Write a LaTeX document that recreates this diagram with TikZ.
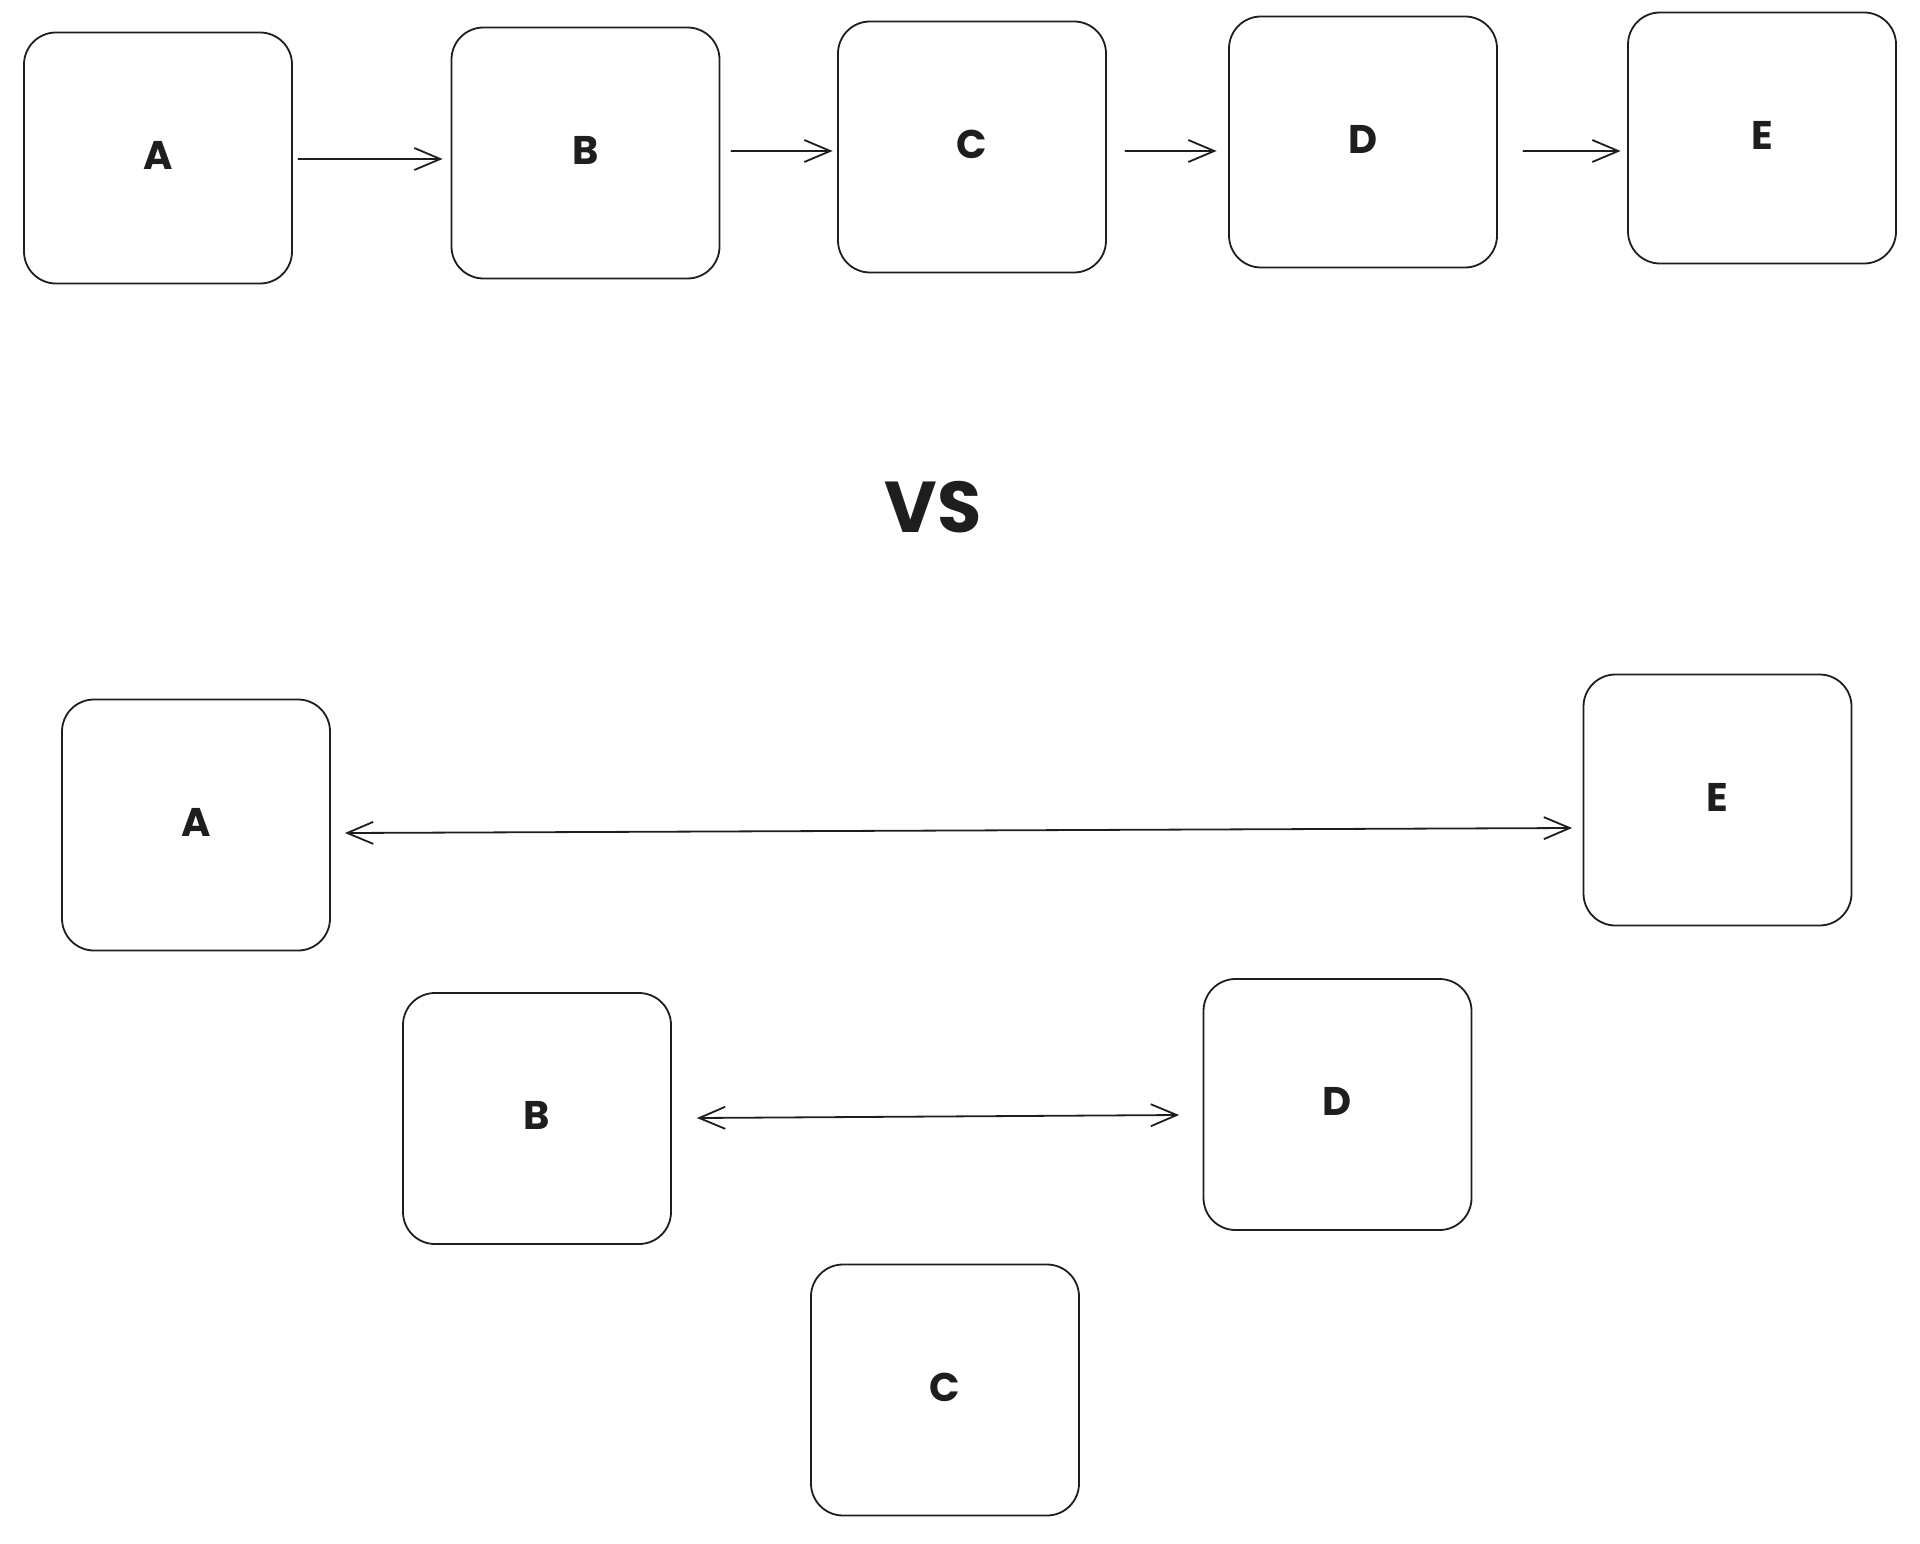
\documentclass[tikz,border=0pt]{standalone}
\usepackage{fontspec}
\setmainfont{Poppins}
\usetikzlibrary{arrows.meta,calc}
\definecolor{ink}{HTML}{1E1E1E}
\tikzset{
  card/.style={draw=ink, line width=1.8pt, rounded corners=32pt,
    minimum width=268pt, minimum height=251pt, inner sep=0pt,
    text depth=6pt, text=ink, font=\fontsize{40}{44}\selectfont\bfseries},
  arr/.style={draw=ink, line width=1.8pt, line cap=round, line join=round,
    -{Straight Barb[length=26pt,width=22pt,line width=1.8pt]}},
  biarr/.style={draw=ink, line width=1.8pt, line cap=round, line join=round,
    {Straight Barb[length=26pt,width=22pt,line width=1.8pt]}-{Straight Barb[length=26pt,width=22pt,line width=1.8pt]}}
}
\begin{document}
\begin{tikzpicture}[x=1pt,y=-1pt]
\useasboundingbox (0,0) rectangle (1920,1544);
% top row
\node[card] (tA) at (158,158) {A};
\node[card] (tB) at (585.5,153) {B};
\node[card] (tC) at (972,147) {C};
\node[card] (tD) at (1363,142) {D};
\node[card] (tE) at (1762,138) {E};
\draw[arr] ($(tA.east)+(5.5,1)$) -- ($(tB.west)+(-8,6)$);
\draw[arr] ($(tB.east)+(11,-2)$) -- ($(tC.west)+(-4.5,4)$);
\draw[arr] ($(tC.east)+(18.5,4)$) -- ($(tD.west)+(-11.5,9)$);
\draw[arr] ($(tD.east)+(25.5,9)$) -- ($(tE.west)+(-6.5,13)$);
% vs
\node[text=ink, font=\fontsize{72}{76}\selectfont\bfseries] (vs) at (933,507) {VS};
% bottom
\node[card] (bA) at (196,825) {A};
\node[card] (bE) at (1717.5,800) {E};
\node[card] (bB) at (537,1118.5) {B};
\node[card] (bD) at (1337.5,1104.5) {D};
\node[card] (bC) at (945,1390) {C};
\draw[biarr] ($(bA.east)+(14,8)$) -- ($(bE.west)+(-10.5,28)$);
\draw[biarr] ($(bB.east)+(25,-0.5)$) -- ($(bD.west)+(-23.5,10.5)$);
\end{tikzpicture}
\end{document}
